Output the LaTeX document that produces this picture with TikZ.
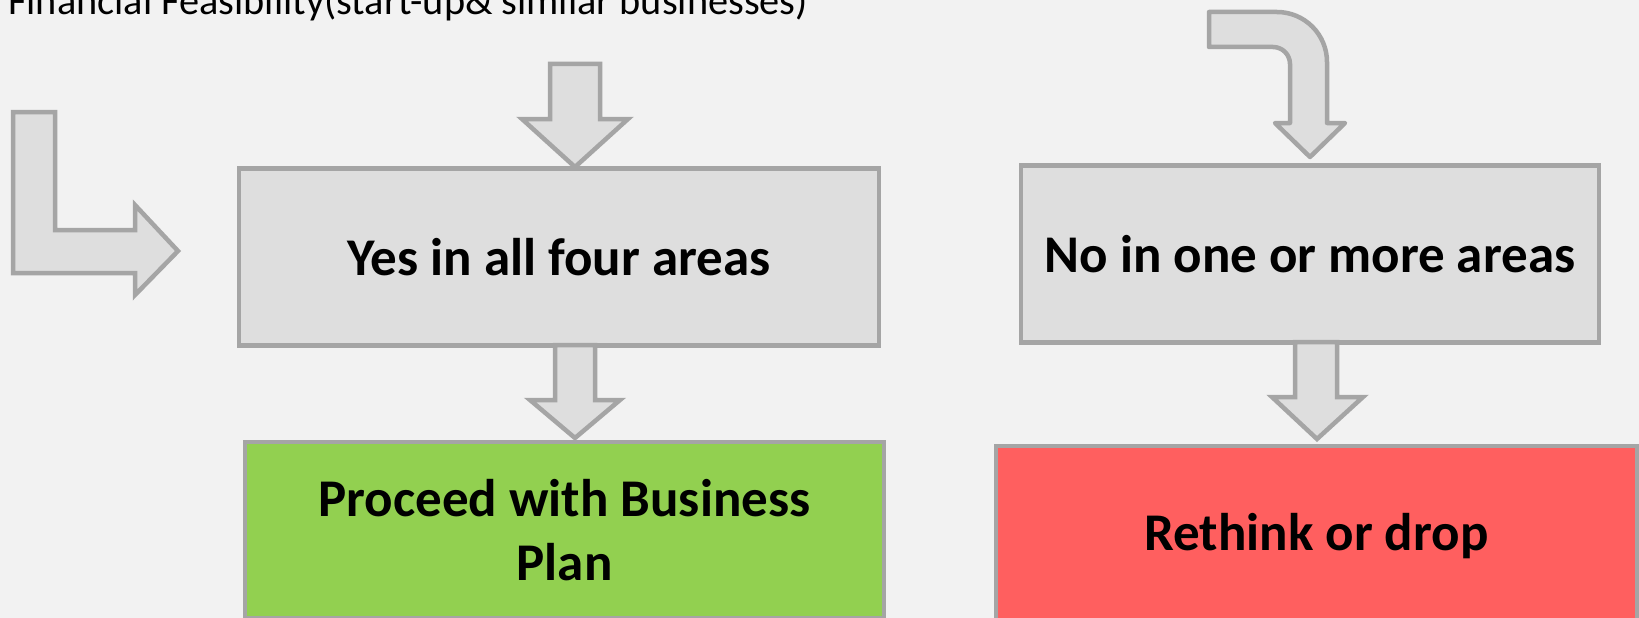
\documentclass[tikz,border=0pt]{standalone}
\usepackage{fontspec}
\setmainfont{Carlito}
\begin{document}
\definecolor{bgcol}{HTML}{F2F2F2}
\definecolor{edgecol}{HTML}{A5A5A5}
\definecolor{boxcol}{HTML}{DEDEDE}
\definecolor{gocol}{HTML}{92D050}
\definecolor{stopcol}{HTML}{FF5F5F}
\begin{tikzpicture}[x=1pt,y=-1pt,
  blockarrow/.style={draw=edgecol,fill=boxcol,line width=4.5pt,line join=miter},
  stepbox/.style={draw=edgecol,line width=4.5pt,rectangle,inner sep=0pt,
    font=\fontsize{53}{64}\selectfont\bfseries,align=center,text=black},
  greybox/.style={stepbox,fill=boxcol},
  header/.style={anchor=base west,inner sep=0pt,font=\fontsize{40.3}{48}\selectfont,text=black}]
  % canvas
  \fill[bgcol] (0,0) rectangle (1639,618);
  \useasboundingbox (0,0) rectangle (1639,618);
  \begin{scope}
  \clip (0,0) rectangle (1639,618);

  % heading line, partly above the top edge
  \node[header] (title) at (8,15) {Financial Feasibility(start-up\& similar businesses)};

  % decision boxes
  \node[greybox,minimum width=640pt,minimum height=177pt] (yes) at (559,257) {Yes in all four areas};
  \node[greybox,minimum width=578pt,minimum height=177pt] (no) at (1310,254) {No in one or more areas};

  % outcome boxes
  \node[stepbox,fill=gocol,minimum width=639pt,minimum height=176pt] (proceed) at (564.5,530) {Proceed with Business\\Plan};
  \node[stepbox,fill=stopcol,minimum width=641pt,minimum height=180pt] (rethink) at (1316.5,536) {Rethink or drop};

  % L-shaped arrow on the left
  \draw[blockarrow] (13,112) -- (55,112) -- (55,230) -- (135,230) -- (135,205)
    -- (178,251) -- (135,295) -- (135,273) -- (13,273) -- cycle;

  % straight arrow into the "yes" box
  \draw[blockarrow] (550,64) -- (600,64) -- (600,119) -- (628,119) -- (575,167)
    -- (522,119) -- (550,119) -- cycle;

  % arrow from "yes" to "proceed"
  \draw[blockarrow] (555,345) -- (595,345) -- (595,400) -- (620,400) -- (575,438)
    -- (530,400) -- (555,400) -- cycle;

  % arrow from "no" to "rethink"
  \draw[blockarrow] (1295,342) -- (1337,342) -- (1337,397) -- (1363,397) -- (1317,439)
    -- (1272,397) -- (1295,397) -- cycle;

  % bent arrow into the "no" box
  \draw[blockarrow,line join=round] (1209,12) -- (1277,12)
    .. controls (1304.6,12) and (1327,34.4) .. (1327,62)
    -- (1327,123) -- (1345,123) -- (1310,157) -- (1275,123) -- (1290,123) -- (1290,64)
    .. controls (1290,54.6) and (1282.4,47) .. (1273,47)
    -- (1209,47) -- cycle;
  \end{scope}
\end{tikzpicture}
\end{document}
